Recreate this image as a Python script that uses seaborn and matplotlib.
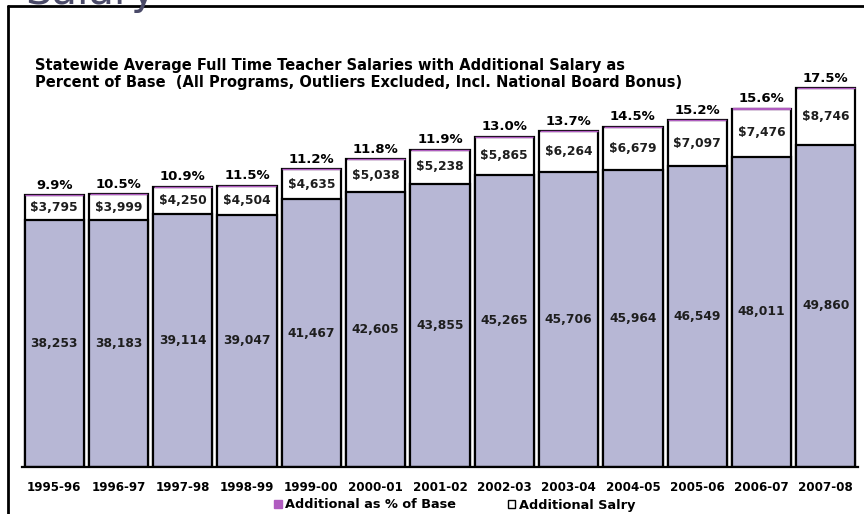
import numpy as np
import pandas as pd
import matplotlib.pyplot as plt
import seaborn as sns
from matplotlib.patches import Patch
from matplotlib.lines import Line2D

years = ['1995-96', '1996-97', '1997-98', '1998-99', '1999-00', '2000-01', '2001-02',
         '2002-03', '2003-04', '2004-05', '2005-06', '2006-07', '2007-08']
base = [38253, 38183, 39114, 39047, 41467, 42605, 43855, 45265, 45706, 45964, 46549, 48011, 49860]
additional = [3795, 3999, 4250, 4504, 4635, 5038, 5238, 5865, 6264, 6679, 7097, 7476, 8746]
pct = [9.9, 10.5, 10.9, 11.5, 11.2, 11.8, 11.9, 13.0, 13.7, 14.5, 15.2, 15.6, 17.5]

df = pd.DataFrame({'year': years, 'base': base, 'additional': additional, 'pct': pct})
df['total'] = df['base'] + df['additional']

sns.set_style('white')
plt.rcParams['font.family'] = ['DejaVu Sans']
plt.rcParams['text.color'] = 'black'

fig = plt.figure(figsize=(8.64, 5.14), dpi=100)
ax = fig.add_axes([22 / 864, 1 - 467 / 514, 836 / 864, 407 / 514])

lavender = '#b7b7d5'
purple = '#b05cc0'
ink = '#1e1e1e'

# total (white) first, then base on top of it
sns.barplot(data=df, x='year', y='total', color='white', edgecolor='black',
            linewidth=1.6, width=0.92, saturation=1, ax=ax)
sns.barplot(data=df, x='year', y='base', color=lavender, edgecolor='black',
            linewidth=1.6, width=0.92, saturation=1, ax=ax)
# "Additional as % of Base" series - hairline on top of each stack
x = np.arange(len(years))
ax.bar(x, df['pct'], bottom=df['total'], width=0.90, color=purple,
       edgecolor=purple, linewidth=1.0, zorder=3)

for i, r in df.iterrows():
    ax.text(i, r['base'] / 2, f"{r['base']:,}", ha='center', va='center',
            fontsize=8.8, fontweight='bold', color=ink)
    ax.text(i, r['base'] + r['additional'] / 2, f"${r['additional']:,}", ha='center',
            va='center', fontsize=8.8, fontweight='bold', color=ink)
    ax.annotate(f"{r['pct']:.1f}%", (i, r['total']), xytext=(0, 2.5),
                textcoords='offset points', ha='center', va='bottom',
                fontsize=9.5, fontweight='heavy', color='black')

ax.set_xlim(-0.5, len(years) - 0.5)
ax.set_ylim(0, 63000)
ax.set_xlabel('')
ax.set_ylabel('')
ax.set_yticks([])
for s in ['top', 'right', 'left']:
    ax.spines[s].set_visible(False)
ax.spines['bottom'].set_color('black')
ax.spines['bottom'].set_linewidth(1.6)
ax.set_xticks(x)
ax.set_xticklabels(years, fontsize=8.6, fontweight='heavy', color='black')
ax.set_xticks(np.arange(-0.5, len(years)), minor=True)
ax.tick_params(axis='x', which='major', length=0, pad=10)
ax.tick_params(axis='x', which='minor', length=5, width=1.4, color='black', direction='out')

fig.text(35 / 864, 1 - 74 / 514,
         'Statewide Average Full Time Teacher Salaries with Additional Salary as\n'
         'Percent of Base  (All Programs, Outliers Excluded, Incl. National Board Bonus)',
         ha='left', va='center', fontsize=10.5, fontweight='heavy', linespacing=1.15,
         color='black')

# remnant of slide heading, cut by top edge
fig.text(25 / 864, 1 - 4 / 514, 'Salary', ha='left', va='baseline', fontsize=30,
         color='#4a4a68')

# outer frame
fig.add_artist(Line2D([8 / 864, 8 / 864], [0, 1 - 6 / 514], color='black', lw=2,
                      transform=fig.transFigure))
fig.add_artist(Line2D([8 / 864, 1], [1 - 6 / 514, 1 - 6 / 514], color='black', lw=2,
                      transform=fig.transFigure))

handles = [Patch(facecolor=purple, edgecolor=purple),
           Patch(facecolor='white', edgecolor='black')]
fig.legend(handles, ['Additional as % of Base', 'Additional Salry'], loc='center',
           bbox_to_anchor=(455 / 864, 1 - 505 / 514), ncol=2, frameon=False,
           prop={'size': 9.3, 'weight': 'bold'}, handlelength=0.55, handleheight=0.55,
           handletextpad=0.3, columnspacing=4.0, borderpad=0)

fig.savefig('out.png', dpi=100)
